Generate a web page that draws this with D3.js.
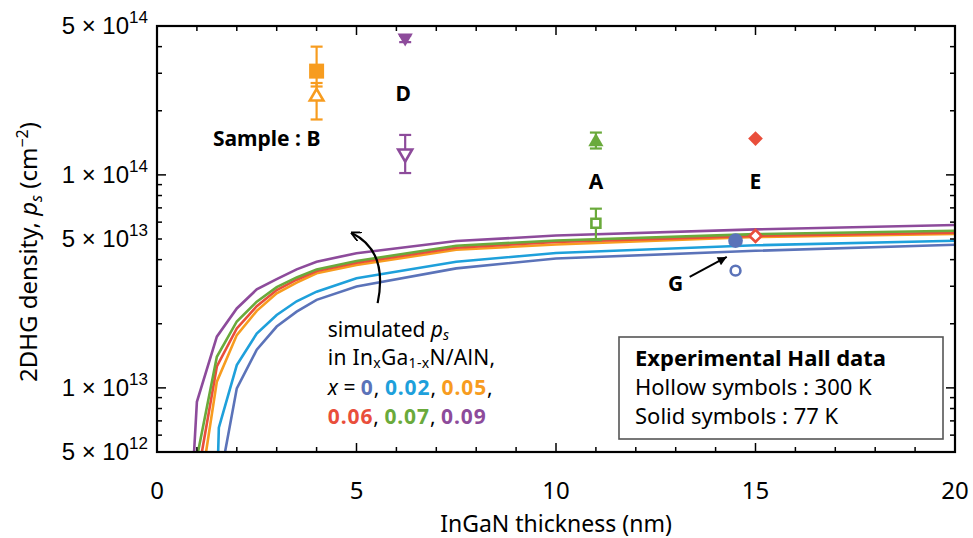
<!DOCTYPE html>
<html>
<head>
<meta charset="utf-8">
<script src="https://cdn.jsdelivr.net/npm/d3@7"></script>
<style>
  body { margin: 0; background: #fff; }
  text { font-family: "Noto Sans", sans-serif; }
</style>
</head>
<body>
<div id="chart"></div>
<script>
var chart_width  = 973;
var chart_height = 538;
var margin = {left: 157, right: 18, top: 26, bottom: 86};

// simulated curves, x = In fraction, thickness in nm, ps in cm^-2 (x 1e13)
var fractions = ['0', '0.02', '0.05', '0.06', '0.07', '0.09'];
var curve_x0   = [[1.65, 0.44], [2, 0.995], [2.5, 1.51], [3, 1.94], [3.5, 2.28], [4, 2.59], [5, 2.99], [7.5, 3.64], [10, 4.05], [15, 4.40], [20, 4.70]];
var curve_x002 = [[1.5, 0.3], [1.55, 0.65], [2, 1.28], [2.5, 1.8], [3, 2.2], [3.5, 2.55], [4, 2.83], [5, 3.27], [7.5, 3.91], [10, 4.3], [15, 4.67], [20, 4.91]];
var curve_x005 = [[1.2, 0.46], [1.5, 1.07], [2, 1.77], [2.5, 2.3], [3, 2.78], [3.5, 3.12], [4, 3.45], [5, 3.78], [7.5, 4.45], [10, 4.71], [15, 5.11], [20, 5.28]];
var curve_x006 = [[1.1, 0.47], [1.5, 1.26], [2, 1.9], [2.5, 2.42], [3, 2.88], [3.5, 3.22], [4, 3.54], [5, 3.87], [7.5, 4.55], [10, 4.84], [15, 5.17], [20, 5.35]];
var curve_x007 = [[1.0, 0.47], [1.5, 1.40], [2, 2.05], [2.5, 2.54], [3, 2.97], [3.5, 3.3], [4, 3.6], [5, 3.94], [7.5, 4.65], [10, 4.92], [15, 5.27], [20, 5.47]];
var curve_x009 = [[0.9, 0.4], [1.0, 0.86], [1.5, 1.74], [2, 2.36], [2.5, 2.9], [3, 3.24], [3.5, 3.6], [4, 3.91], [5, 4.29], [7.5, 4.89], [10, 5.19], [15, 5.55], [20, 5.82]];
var curves = [curve_x0, curve_x002, curve_x005, curve_x006, curve_x007, curve_x009];
var colors = ['#5b73b9', '#1ea0db', '#f79c1f', '#e94e3b', '#6aaa3b', '#8d4b9b'];

// experimental Hall data
var samples     = ['B', 'D', 'A', 'E', 'G'];
var thickness   = [4.0, 6.22, 11.0, 15.0, 14.5];
var solid_77K   = [3.07e14, 4.4e14, 1.43e14, 1.48e14, 4.91e13];
var solid_lo    = [2.6e14, 4.2e14, 1.33e14, null, null];
var solid_hi    = [4.0e14, 4.5e14, 1.58e14, null, null];
var hollow_300K = [2.33e14, 1.26e14, 5.93e13, 5.17e13, 3.55e13];
var hollow_lo   = [1.82e14, 1.02e14, 4.94e13, null, null];
var hollow_hi   = [2.7e14, 1.54e14, 6.94e13, null, null];
var sample_color = {B: '#f79c1f', D: '#8d4b9b', A: '#6aaa3b', E: '#e94e3b', G: '#5b73b9'};
var sample_shape = {B: ['square', 'triangle'], D: ['down', 'down'], A: ['triangle', 'square'], E: ['diamond', 'diamond'], G: ['circle', 'circle']};

var x_ticks = [0, 5, 10, 15, 20];
var y_labels = [[5, 12], [1, 13], [5, 13], [1, 14], [5, 14]];

var svg = d3.select('#chart')
  .append('svg')
  .attr('width', chart_width)
  .attr('height', chart_height);

var x_scale = d3.scaleLinear()
  .domain([0, 20])
  .range([margin.left, chart_width - margin.right]);

var y_scale = d3.scaleLog()
  .domain([5e12, 5e14])
  .range([chart_height - margin.bottom, margin.top]);

var x0 = x_scale(0), x1 = x_scale(20), y0 = y_scale(5e12), y1 = y_scale(5e14);

svg.append('clipPath').attr('id', 'plot-clip')
  .append('rect')
  .attr('x', x0).attr('y', y1)
  .attr('width', x1 - x0).attr('height', y0 - y1);

// curves
var line = d3.line()
  .x(function(d) { return x_scale(d[0]); })
  .y(function(d) { return y_scale(d[1] * 1e13); });

svg.append('g')
  .attr('clip-path', 'url(#plot-clip)')
  .selectAll('path')
  .data(curves)
  .enter()
  .append('path')
  .attr('d', line)
  .attr('fill', 'none')
  .attr('stroke', function(d, i) { return colors[i]; })
  .attr('stroke-width', 2.6);

// axes with inward ticks on all four sides
var minor_y = [];
[1e12, 1e13, 1e14].forEach(function(p) {
  for (var k = 1; k <= 9; k++) {
    var v = k * p;
    if (v >= 5e12 && v <= 5e14) minor_y.push(v);
  }
});
var minor_x = d3.range(0, 21, 1);

var axis_g = svg.append('g');
function tick_len_y(v) {
  var l = Math.log10(v);
  return Math.abs(l - Math.round(l)) < 1e-9 ? 9 : 5;
}
minor_y.forEach(function(v) {
  var y = y_scale(v), L = tick_len_y(v);
  axis_g.append('line').attr('x1', x0).attr('x2', x0 + L).attr('y1', y).attr('y2', y);
  axis_g.append('line').attr('x1', x1).attr('x2', x1 - L).attr('y1', y).attr('y2', y);
});
minor_x.forEach(function(v) {
  var x = x_scale(v), L = v % 5 === 0 ? 9 : 5;
  axis_g.append('line').attr('x1', x).attr('x2', x).attr('y1', y0).attr('y2', y0 - L);
  axis_g.append('line').attr('x1', x).attr('x2', x).attr('y1', y1).attr('y2', y1 + L);
});
axis_g.selectAll('line').attr('stroke', '#000').attr('stroke-width', 1.5);

axis_g.append('rect')
  .attr('x', x0).attr('y', y1)
  .attr('width', x1 - x0).attr('height', y0 - y1)
  .attr('fill', 'none').attr('stroke', '#000').attr('stroke-width', 2.2);

// tick labels
svg.selectAll('.xt')
  .data(x_ticks)
  .enter()
  .append('text')
  .attr('class', 'xt')
  .attr('x', function(d) { return x_scale(d); })
  .attr('y', y0 + 47)
  .attr('text-anchor', 'middle')
  .style('font-size', '24px')
  .text(function(d) { return d; });

y_labels.forEach(function(d) {
  var t = svg.append('text')
    .attr('x', x0 - 9)
    .attr('y', y_scale(d[0] * Math.pow(10, d[1])) + 8)
    .attr('text-anchor', 'end')
    .style('font-family', '"Liberation Sans", Arial, sans-serif')
    .style('font-size', '24px');
  t.append('tspan').text(d[0] + ' \u00d7 10');
  t.append('tspan').attr('dy', -11).style('font-size', '17px').text(d[1]);
});

// axis titles
svg.append('text')
  .attr('x', (x0 + x1) / 2)
  .attr('y', 532)
  .attr('text-anchor', 'middle')
  .style('font-size', '23px')
  .text('InGaN thickness (nm)');

var yt = svg.append('text')
  .attr('transform', 'translate(37,' + 252 + ') rotate(-90)')
  .attr('text-anchor', 'middle')
  .style('font-size', '24px');
yt.append('tspan').text('2DHG density, ');
yt.append('tspan').style('font-style', 'italic').text('p');
yt.append('tspan').attr('dy', 5).style('font-size', '16px').style('font-style', 'italic').text('s');
yt.append('tspan').attr('dy', -5).text(' (cm');
yt.append('tspan').attr('dy', -9).style('font-size', '16px').text('\u22122');
yt.append('tspan').attr('dy', 9).text(')');

// markers
var solid_size  = {square: 225, triangle: 100, down: 100, diamond: 108, circle: 169};
var hollow_size = {square: 80, triangle: 80, down: 85, diamond: 72, circle: 75};
function sym_type(shape) {
  if (shape === 'triangle' || shape === 'down') return d3.symbolTriangle;
  if (shape === 'circle') return d3.symbolCircle;
  return d3.symbolSquare;
}
function rot(shape) {
  if (shape === 'down') return ' rotate(180)';
  if (shape === 'diamond') return ' rotate(45)';
  return '';
}
function draw_err(x, lo, hi, color) {
  if (lo === null) return;
  var g = svg.append('g').attr('stroke', color).attr('stroke-width', 2.2);
  g.append('line').attr('x1', x).attr('x2', x).attr('y1', y_scale(lo)).attr('y2', y_scale(hi));
  [lo, hi].forEach(function(v) {
    g.append('line').attr('x1', x - 6).attr('x2', x + 6).attr('y1', y_scale(v)).attr('y2', y_scale(v));
  });
}
samples.forEach(function(s, i) {
  var x = x_scale(thickness[i]), c = sample_color[s];
  draw_err(x, hollow_lo[i], hollow_hi[i], c);
  draw_err(x, solid_lo[i], solid_hi[i], c);
  var hs = sample_shape[s][1];
  svg.append('path')
    .attr('d', d3.symbol().type(sym_type(hs)).size(hollow_size[hs])())
    .attr('transform', 'translate(' + x + ',' + y_scale(hollow_300K[i]) + ')' + rot(hs))
    .attr('fill', '#fff').attr('stroke', c).attr('stroke-width', 2.6);
  var ss = sample_shape[s][0];
  svg.append('path')
    .attr('d', d3.symbol().type(sym_type(ss)).size(solid_size[ss])())
    .attr('transform', 'translate(' + x + ',' + y_scale(solid_77K[i]) + ')' + rot(ss))
    .attr('fill', c);
});

// sample labels
var label_pos = [['Sample : B', 2.75, 1.49e14], ['D', 6.17, 2.42e14], ['A', 11.0, 9.4e13], ['E', 15.0, 9.4e13], ['G', 13.0, 3.1e13]];
svg.selectAll('.sl')
  .data(label_pos)
  .enter()
  .append('text')
  .attr('x', function(d) { return x_scale(d[1]); })
  .attr('y', function(d) { return y_scale(d[2]); })
  .attr('text-anchor', 'middle')
  .attr('dominant-baseline', 'central')
  .style('font-size', '21px')
  .style('font-weight', 'bold')
  .text(function(d) { return d[0]; });

// arrows
svg.append('defs').append('marker')
  .attr('id', 'head')
  .attr('viewBox', '0 0 10 10')
  .attr('refX', 9).attr('refY', 5)
  .attr('markerWidth', 10).attr('markerHeight', 10)
  .attr('markerUnits', 'userSpaceOnUse')
  .attr('orient', 'auto')
  .append('path')
  .attr('d', 'M0,0 L10,5 L0,10')
  .attr('fill', 'none').attr('stroke', '#000').attr('stroke-width', 1.8);

svg.append('path')
  .attr('d', 'M' + x_scale(5.53) + ',' + y_scale(2.5e13) +
    ' Q' + x_scale(5.8) + ',' + y_scale(4.4e13) + ' ' + x_scale(4.88) + ',' + y_scale(5.34e13))
  .attr('fill', 'none').attr('stroke', '#000').attr('stroke-width', 2.2)
  .attr('marker-end', 'url(#head)');

svg.append('defs').append('marker')
  .attr('id', 'head2')
  .attr('viewBox', '0 0 10 10')
  .attr('refX', 10).attr('refY', 5)
  .attr('markerWidth', 12).attr('markerHeight', 9)
  .attr('markerUnits', 'userSpaceOnUse')
  .attr('orient', 'auto')
  .append('path')
  .attr('d', 'M0,0 L10,5 L0,10 Z')
  .attr('fill', '#000');

svg.append('line')
  .attr('x1', x_scale(13.35)).attr('y1', y_scale(3.32e13))
  .attr('x2', x_scale(14.28)).attr('y2', y_scale(4.12e13))
  .attr('stroke', '#000').attr('stroke-width', 2)
  .attr('marker-end', 'url(#head2)');

// simulated annotation
var ax = x_scale(4.28);
var ann_size = '21px', sub_size = '14px';
var t1 = svg.append('text').attr('x', ax).attr('y', 337).style('font-size', ann_size);
t1.append('tspan').text('simulated ');
t1.append('tspan').style('font-style', 'italic').text('p');
t1.append('tspan').attr('dy', 3).style('font-style', 'italic').style('font-size', sub_size).text('s');

var t2 = svg.append('text').attr('x', ax).attr('y', 365).style('font-size', ann_size)
  .style('letter-spacing', '0.3px');
t2.append('tspan').text('in In');
t2.append('tspan').attr('dy', 3).style('font-size', sub_size).text('x');
t2.append('tspan').attr('dy', -3).text('Ga');
t2.append('tspan').attr('dy', 3).style('font-size', sub_size).text('1-x');
t2.append('tspan').attr('dy', -3).text('N/AlN,');

var t3 = svg.append('text').attr('x', ax).attr('y', 395).style('font-size', ann_size);
t3.append('tspan').style('font-style', 'italic').text('x');
t3.append('tspan').text(' = ');
var t4 = svg.append('text').attr('x', ax).attr('y', 424).style('font-size', ann_size);
fractions.forEach(function(f, i) {
  var t = i < 3 ? t3 : t4;
  t.append('tspan').attr('fill', colors[i]).style('font-weight', 'bold')
    .style('letter-spacing', '0.9px').text(f);
  if (i < 5) t.append('tspan').text(', ');
});

// legend box
svg.append('rect')
  .attr('x', 619).attr('y', 337).attr('width', 324).attr('height', 102)
  .attr('fill', '#fff').attr('stroke', '#555').attr('stroke-width', 1.6);
var legend_lines = ['Experimental Hall data', 'Hollow symbols : 300 K', 'Solid symbols : 77 K'];
svg.selectAll('.lg')
  .data(legend_lines)
  .enter()
  .append('text')
  .attr('x', 635)
  .attr('y', function(d, i) { return 366 + i * 29; })
  .style('font-size', '22px')
  .style('font-weight', function(d, i) { return i === 0 ? 'bold' : 'normal'; })
  .text(function(d) { return d; });
</script>
</body>
</html>
